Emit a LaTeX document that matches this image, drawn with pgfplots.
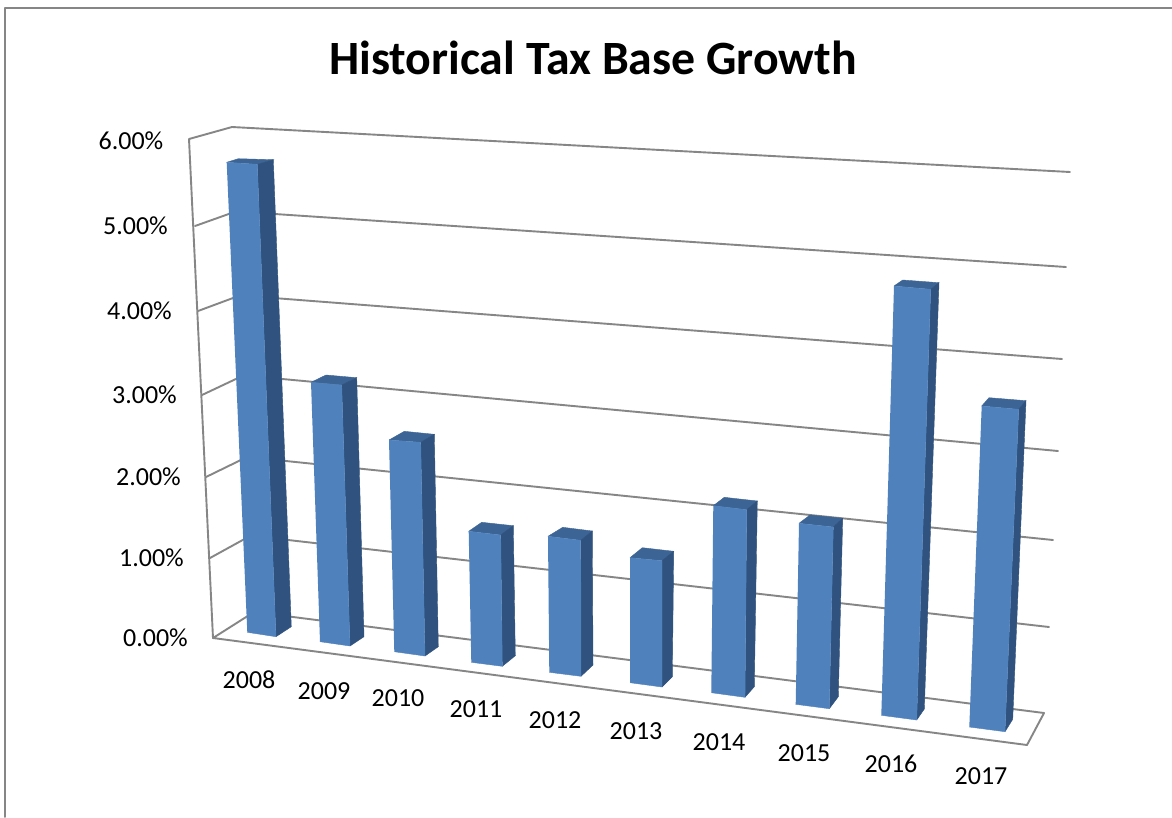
\documentclass[border=0pt]{standalone}
\usepackage{pgfplots}
\pgfplotsset{compat=1.18}
\usepackage{fontspec}
\setmainfont{Carlito}
\definecolor{frameGrey}{HTML}{868686}
\definecolor{barFront}{HTML}{4F81BD}
\definecolor{barSide}{HTML}{30527E}
\definecolor{barTop}{HTML}{3C6494}

% One column in the oblique view: front corners TL, TR, BR, BL,
% rear top corners left and right, rear foot of the side face.
\newcommand{\column}[7]{%
  \addplot[fill=barTop,draw=barTop,line width=0.4pt] coordinates {(#1)(#5)(#6)(#2)};
  \addplot[fill=barSide,draw=barSide,line width=0.4pt] coordinates {(#2)(#6)(#7)(#3)};
  \addplot[fill=barFront,draw=barFront,line width=0.4pt] coordinates {(#1)(#2)(#3)(#4)};
}
% A grey line of the box: walls, floor, gridlines.
\newcommand{\wall}[1]{%
  \addplot[draw=frameGrey,line width=1.9pt,line join=round,line cap=round] coordinates {#1};
}

\begin{document}
\begin{tikzpicture}
\begin{axis}[
  hide axis,
  scale only axis,
  width=1172pt,
  height=817pt,
  xmin=0,xmax=1172,
  ymin=0,ymax=817,
  y dir=reverse,
  no markers,
  clip=true,
]
  % page background and chart frame
  \addplot[fill=white,draw=none] coordinates {(0,0)(1172,0)(1172,817)(0,817)};
  \wall{(5,817)(5,8)(1172,8)}

  % rear and left walls with gridlines for each percent step
  \wall{(213,638)(189,139)(232,127)(1070,172)}
  \wall{(195,226)(236,211.4)(1066,267)}
  \wall{(198,311)(240,295.4)(1062,359)}
  \wall{(202,395)(243.5,375.4)(1058,451)}
  \wall{(206,477)(247,457)(1053,540)}
  \wall{(210,558)(250.5,535.7)(1049,627)}
  % floor
  \wall{(213,638)(254,612)(1044,713)(1027,745)(213,638)}

  % 2008 to 2017
  \column{226.7,162.3}{257.3,164.3}{276,636.7}{247.3,632.3}{238.3,158.7}{273.3,159.7}{291.3,626.7}
  \column{311,382.3}{341.7,385}{350,646}{320,641.7}{326,375}{356.7,377.7}{364,636.7}
  \column{389,440}{420.7,442.3}{425,656}{394.3,651.7}{404.3,431.3}{434.3,434.3}{438.3,646.7}
  \column{468.7,531.3}{500.7,535}{502.3,666.3}{471.3,662.3}{481.7,522.3}{513.3,525.7}{515.3,655.7}
  \column{548,536.3}{580.7,540.3}{581,676.3}{549.3,672.3}{562.7,527.3}{592.3,531}{593,665}
  \column{630,557.7}{662,560.7}{662,687}{630,682.7}{642.3,547.7}{673.7,551.3}{672.3,676.7}
  \column{713.3,505.7}{746.7,509.7}{745,697.3}{711.3,692.7}{724.3,497.3}{757.3,501}{754.3,686.7}
  \column{799,523.3}{833.3,527}{829.3,708.7}{795.7,704.3}{810,515}{842.7,518.3}{838.3,696.7}
  \column{894,286}{930.7,289.3}{916.7,720}{881.3,715.3}{902.7,280}{939,282.7}{924.3,709}
  \column{981.7,406}{1018.7,409.3}{1005,731.7}{969.3,727}{989,397.7}{1026,400.7}{1012.7,719.3}

  % title
  \node[font=\fontsize{47.8}{48}\selectfont\bfseries] at (axis cs:593,58) {Historical Tax Base Growth};

  % value labels along the left wall
  \tikzset{lab/.style={font=\fontsize{26}{26}\selectfont,inner sep=0pt,text=black}}
  \node[lab,anchor=east] at (axis cs:163.5,141) {6.00\%};
  \node[lab,anchor=east] at (axis cs:168,226) {5.00\%};
  \node[lab,anchor=east] at (axis cs:172,311) {4.00\%};
  \node[lab,anchor=east] at (axis cs:177,395) {3.00\%};
  \node[lab,anchor=east] at (axis cs:181,477) {2.00\%};
  \node[lab,anchor=east] at (axis cs:184,558) {1.00\%};
  \node[lab,anchor=east] at (axis cs:188,638) {0.00\%};

  % category labels under the floor
  \node[lab] at (axis cs:249,680) {2008};
  \node[lab] at (axis cs:324,691) {2009};
  \node[lab] at (axis cs:398,698) {2010};
  \node[lab] at (axis cs:476,709) {2011};
  \node[lab] at (axis cs:555,720) {2012};
  \node[lab] at (axis cs:636,731) {2013};
  \node[lab] at (axis cs:719,742) {2014};
  \node[lab] at (axis cs:804,753) {2015};
  \node[lab] at (axis cs:891,764) {2016};
  \node[lab] at (axis cs:981,776) {2017};
\end{axis}
\end{tikzpicture}
\end{document}
